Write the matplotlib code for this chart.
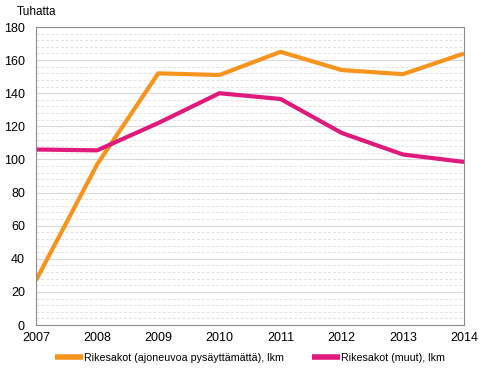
import matplotlib.pyplot as plt
import numpy as np

years = [2007, 2008, 2009, 2010, 2011, 2012, 2013, 2014]
ajoneuvo = [27, 97, 152, 151, 165, 154, 151.5, 164]
muut = [106, 105.5, 122, 140, 136.5, 116, 103, 98.5]
labels = ['Rikesakot (ajoneuvoa pysäyttämättä), lkm', 'Rikesakot (muut), lkm']

plt.rcParams['font.family'] = ['Liberation Sans', 'DejaVu Sans']
plt.rcParams['font.size'] = 9

fig = plt.figure(figsize=(4.84, 3.71), dpi=100)
ax = fig.add_axes([36 / 484, 1 - 325 / 371, 428 / 484, 298 / 371])

ax.set_yticks(np.arange(0, 181, 20))
ax.set_yticks(np.arange(0, 181, 4), minor=True)
ax.grid(True, which='major', axis='y', color='#d9d9d9', lw=0.8)
ax.grid(True, which='minor', axis='y', color='#e3e3e3', lw=0.7, ls=(0, (3, 2)))
ax.tick_params(which='minor', length=0)
ax.tick_params(axis='y', which='major', length=0, pad=8, labelsize=9)
ax.tick_params(axis='x', which='major', length=0, pad=5, labelsize=9)

ax.plot(years, ajoneuvo, color='#F7941D', lw=3, label=labels[0], solid_capstyle='butt')
ax.plot(years, muut, color='#E0197D', lw=3, label=labels[1], solid_capstyle='butt')

ax.set_xlim(2007, 2014)
ax.set_ylim(0, 180)
ax.set_xticks(years)
for s in ax.spines.values():
    s.set_color('#8c8c8c')
    s.set_linewidth(0.8)
ax.set_axisbelow(True)

fig.text(0.075, 1 - 12 / 371, 'Tuhatta', fontsize=8.5, ha='center', va='center')

leg = ax.legend(loc='center', bbox_to_anchor=(0.5, -(358 - 325) / 298), ncol=2, frameon=False,
                handlelength=2.6, handletextpad=0.1, columnspacing=2.6, fontsize=7.7)
for line in leg.get_lines():
    line.set_linewidth(4)

fig.savefig('out.png', dpi=100)
